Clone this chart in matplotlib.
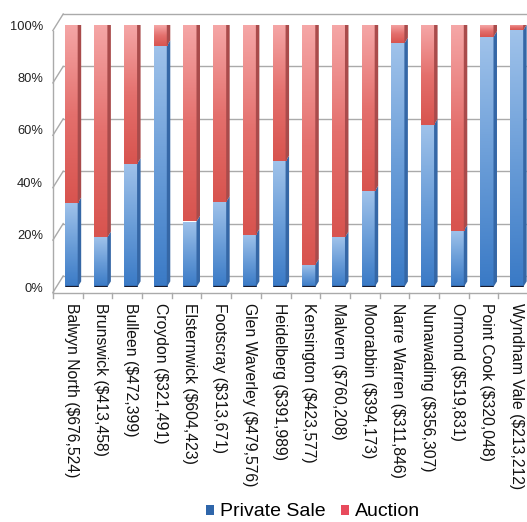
import numpy as np
import matplotlib.pyplot as plt
from matplotlib.colors import LinearSegmentedColormap
from matplotlib.patches import Polygon, Patch

suburbs = ["Balwyn North ($676,524)", "Brunswick ($413,458)", "Bulleen ($472,399)",
           "Croydon ($321,491)", "Elsternwick ($604,423)", "Footscray ($313,671)",
           "Glen Waverley ($479,576)", "Heidelberg ($391,989)", "Kensington ($423,577)",
           "Malvern ($760,208)", "Moorabbin ($394,173)", "Narre Warren ($311,846)",
           "Nunawading ($356,307)", "Ormond ($519,831)", "Point Cook ($320,048)",
           "Wyndham Vale ($213,212)"]
private_sale = [32, 19, 47, 92, 25, 32.5, 20, 48, 8.5, 19, 36.5, 93, 62, 21.5, 95.5, 98]
auction = [100 - p for p in private_sale]
ytick_vals = [0, 20, 40, 60, 80, 100]

W, H = 527, 522
fig = plt.figure(figsize=(W / 100, H / 100), dpi=100)
plt.rcParams['font.family'] = ['Liberation Sans', 'DejaVu Sans']

# axes = plane of the bar front faces
left_px, bottom_px, top_px = 56.3, 287, 25
ax = fig.add_axes([left_px / W, (H - bottom_px) / H, (W - left_px) / W, (bottom_px - top_px) / H])
n = len(suburbs)
xpx = 29.7
xmax = -0.5 + (W - left_px) / xpx
ax.set_xlim(-0.5, xmax)
ax.set_ylim(0, 100)
ypx = (bottom_px - top_px) / 100.0
for s in ax.spines.values():
    s.set_visible(False)

def px2d(dx, dy):
    return dx / xpx, dy / ypx

# back wall / front edge offsets (in pixels, up positive)
bdx, bdy = px2d(6.9, 11)
fdx, fdy = px2d(-3.4, -5.5)
grid_c = '#aaaaaa'

for v in ytick_vals:
    ax.plot([-0.5 + bdx, xmax + 1], [v + bdy, v + bdy], color=grid_c, lw=1, zorder=0, clip_on=False)
    ax.plot([-0.5 + fdx, -0.5 + bdx], [v + fdy, v + bdy], color=grid_c, lw=1, zorder=0, clip_on=False)
ax.plot([-0.5 + fdx, -0.5 + fdx], [0 + fdy, 100 + fdy], color=grid_c, lw=1, zorder=0, clip_on=False)
ax.plot([-0.5 + fdx, xmax + 1], [fdy, fdy], color=grid_c, lw=1, zorder=0, clip_on=False)
tdx, tdy = px2d(0, 5)
for k in range(n + 1):
    xk = k - 0.5 + fdx
    ax.plot([xk, xk], [fdy, fdy - tdy], color=grid_c, lw=1, zorder=0, clip_on=False)

blue_cm = LinearSegmentedColormap.from_list('b', ['#3a7ac6', '#6a9dd8', '#9fc2ea'])
red_cm = LinearSegmentedColormap.from_list('r', ['#d8544f', '#e4706d', '#f5a6a6'])
grad = np.linspace(0, 1, 64).reshape(-1, 1)

bw = 0.44
sdx, sdy = px2d(3.5, 5.6)
x = np.arange(n)

b_bars = ax.bar(x, private_sale, width=bw, color='none', linewidth=0, zorder=2)
r_bars = ax.bar(x, auction, bottom=private_sale, width=bw, color='none', linewidth=0, zorder=2)

for bars, cmap, side_c in [(b_bars, blue_cm, '#3567a6'), (r_bars, red_cm, '#a94b4b')]:
    for p in bars:
        x0, y0 = p.get_x(), p.get_y()
        w, h = p.get_width(), p.get_height()
        im = ax.imshow(grad, cmap=cmap, extent=[x0, x0 + w, y0, y0 + h], origin='lower',
                       aspect='auto', zorder=2, interpolation='bilinear')
        im.set_clip_path(p)
        xr = x0 + w
        side = Polygon([[xr, y0], [xr + sdx, y0 + sdy], [xr + sdx, y0 + h + sdy], [xr, y0 + h]],
                       closed=True, facecolor=side_c, edgecolor='none', zorder=2)
        ax.add_patch(side)

for p in r_bars:
    x0, w = p.get_x(), p.get_width()
    yt = p.get_y() + p.get_height()
    top = Polygon([[x0, yt], [x0 + w, yt], [x0 + w + sdx, yt + sdy], [x0 + sdx, yt + sdy]],
                  closed=True, facecolor='#c47474', edgecolor='none', zorder=3)
    ax.add_patch(top)
for p in b_bars:
    x0, w = p.get_x(), p.get_width()
    ax.plot([x0, x0 + w], [0.2, 0.2], color='#1a1a2a', lw=0.9, zorder=3, solid_capstyle='butt')

ax.set_xlim(-0.5, xmax)
ax.set_ylim(0, 100)
ax.set_yticks(ytick_vals)
ax.set_yticklabels([f"{v}%" for v in ytick_vals], fontsize=9.3, color='#222222')
ax.tick_params(axis='y', length=0, pad=9.5)
ax.set_xticks(x)
ax.set_xticklabels(suburbs, rotation=270, ha='center', va='top', fontsize=11.3, color='#111111')
ax.tick_params(axis='x', length=0, pad=11.5)

handles = [Patch(facecolor='#2f66aa', edgecolor='none', label='Private Sale'),
           Patch(facecolor='#e84a5c', edgecolor='none', label='Auction')]
fig.legend(handles=handles, loc='center', bbox_to_anchor=(313 / W, 10 / H), ncol=2,
           frameon=False, fontsize=14, handlelength=0.42, handleheight=0.42,
           handletextpad=0.3, columnspacing=0.8, borderpad=0, borderaxespad=0)

fig.savefig('out.png', dpi=100)
